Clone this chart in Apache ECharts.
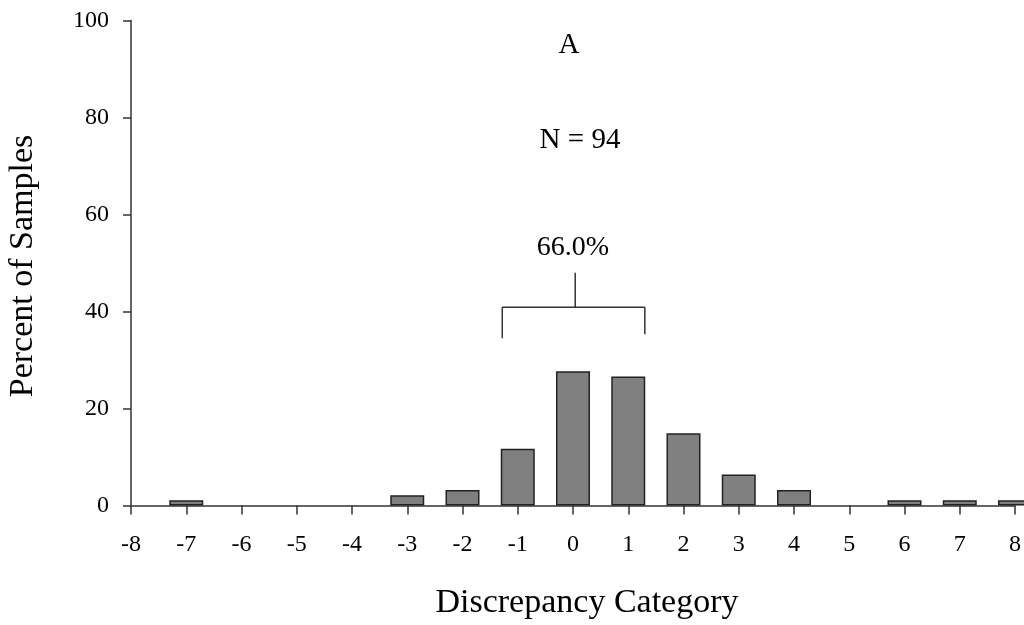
<!DOCTYPE html>
<html>
<head>
<meta charset="utf-8">
<script src="https://cdn.jsdelivr.net/npm/echarts@6/dist/echarts.min.js"></script>
<style>
  html, body { margin: 0; padding: 0; background: #fff; }
  #chart { width: 1024px; height: 625px; }
</style>
</head>
<body>
<div id="chart"></div>
<script>
// discrepancy categories that have samples, and their percent of 94 samples
var categories = [-7, -3, -2, -1, 0, 1, 2, 3, 4, 6, 7, 8];
var percents = [1.1, 2.1, 3.2, 11.7, 27.7, 26.6, 14.9, 6.4, 3.2, 1.1, 1.1, 1.1];
var yTicks = [0, 20, 40, 60, 80, 100];
// bracket round the central three categories (-1, 0, 1)
var bracketX = [-1.28, 1.3];
var bracketY = [34.5, 40.9, 35.3];
var stemY = [40.9, 48];

var font = 'Liberation Serif, Times New Roman, serif';
var axisColor = '#333';

var myChart = echarts.init(document.getElementById('chart'));

var barData = categories.map(function (c, i) { return [c, percents[i]]; });

var option = {
  animation: false,
  grid: { left: 131, right: 9, top: 20.5, bottom: 119.5 },
  xAxis: {
    type: 'value',
    min: -8,
    max: 8,
    interval: 1,
    splitLine: { show: false },
    axisLine: { onZero: false, lineStyle: { color: axisColor, width: 1.5 } },
    axisTick: { length: 9, lineStyle: { color: axisColor, width: 1.5 } },
    axisLabel: { margin: 27, color: '#000', fontSize: 24, fontFamily: font }
  },
  yAxis: {
    type: 'value',
    min: yTicks[0],
    max: yTicks[yTicks.length - 1],
    interval: 20,
    splitLine: { show: false },
    axisLine: { show: true, onZero: false, lineStyle: { color: axisColor, width: 1.5 } },
    axisTick: { show: true, length: 8, lineStyle: { color: axisColor, width: 1.5 } },
    axisLabel: { margin: 22, color: '#000', fontSize: 24, fontFamily: font }
  },
  series: [
    {
      type: 'bar',
      data: barData,
      barWidth: 34,
      clip: true,
      itemStyle: { color: '#808080', borderColor: '#222', borderWidth: 1.5 }
    },
    {
      type: 'line',
      data: [
        [bracketX[0], bracketY[0]],
        [bracketX[0], bracketY[1]],
        [bracketX[1], bracketY[1]],
        [bracketX[1], bracketY[2]]
      ],
      symbol: 'none',
      lineStyle: { color: axisColor, width: 1.5 }
    },
    {
      type: 'line',
      data: [[0.04, stemY[0]], [0.04, stemY[1]]],
      symbol: 'none',
      lineStyle: { color: axisColor, width: 1.5 }
    }
  ],
  graphic: [
    {
      type: 'text',
      style: { text: 'A', font: '29px ' + font, fill: '#000', x: 569, y: 45, align: 'center', verticalAlign: 'middle' }
    },
    {
      type: 'text',
      style: { text: 'N = 94', font: '29px ' + font, fill: '#000', x: 580, y: 140, align: 'center', verticalAlign: 'middle' }
    },
    {
      type: 'text',
      style: { text: '66.0%', font: '28px ' + font, fill: '#000', x: 573, y: 248, align: 'center', verticalAlign: 'middle' }
    },
    {
      type: 'text',
      style: { text: 'Discrepancy Category', font: '34px ' + font, fill: '#000', x: 587, y: 603, align: 'center', verticalAlign: 'middle' }
    },
    {
      type: 'text',
      x: 23, y: 266, rotation: Math.PI / 2,
      style: { text: 'Percent of Samples', font: '34px ' + font, fill: '#000', x: 0, y: 0, align: 'center', verticalAlign: 'middle' }
    }
  ]
};

myChart.setOption(option);
</script>
</body>
</html>
